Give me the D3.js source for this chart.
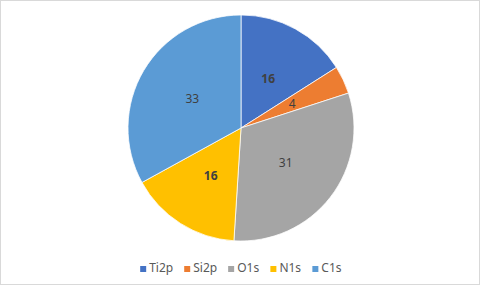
<!DOCTYPE html>
<html>
<head>
<meta charset="utf-8">
<script src="https://cdn.jsdelivr.net/npm/d3@7"></script>
<style>
  body { margin: 0; background: #fff; }
  text { font-family: "Noto Sans", "Open Sans", sans-serif; }
</style>
</head>
<body>
<svg id="chart" width="481" height="286"></svg>
<script>
var categories = ["Ti2p", "Si2p", "O1s", "N1s", "C1s"];
var values = [16, 4, 31, 16, 33];
var colors = ["#4472C4", "#ED7D31", "#A5A5A5", "#FFC000", "#5B9BD5"];
var boldLabels = [true, false, false, true, false];

var data = categories.map(function(c, i) { return { name: c, value: values[i], i: i }; });

var svg = d3.select("#chart");
var cx = 241, cy = 128, radius = 113;

// chart border
svg.append("rect")
    .attr("x", 0.5).attr("y", 0.5)
    .attr("width", 479).attr("height", 284)
    .attr("fill", "#fff")
    .attr("stroke", "#d9d9d9");

var color = d3.scaleOrdinal().domain(categories).range(colors);

var pie = d3.pie().value(function(d) { return d.value; }).sort(null);
var arc = d3.arc().innerRadius(0).outerRadius(radius);
var labelArc = d3.arc().innerRadius(radius * 0.5).outerRadius(radius * 0.5);

var g = svg.append("g").attr("transform", "translate(" + cx + "," + cy + ")");
var slices = pie(data);

g.selectAll("path.slice")
  .data(slices)
  .enter().append("path")
    .attr("class", "slice")
    .attr("d", arc)
    .attr("fill", function(d) { return color(d.data.name); })
    .attr("stroke", "#fff")
    .attr("stroke-width", 0.75);

g.selectAll("text.label")
  .data(slices)
  .enter().append("text")
    .attr("class", "label")
    .attr("transform", function(d) { return "translate(" + labelArc.centroid(d) + ")"; })
    .attr("text-anchor", "middle")
    .attr("dy", "0.35em")
    .attr("font-size", 12)
    .attr("font-weight", function(d) { return boldLabels[d.data.i] ? "bold" : "normal"; })
    .attr("fill", "#404040")
    .text(function(d) { return d.data.value; });

// legend, centered under the pie
var legend = svg.append("g").attr("class", "legend");
var items = legend.selectAll("g")
  .data(data)
  .enter().append("g");

items.append("rect")
    .attr("width", 6).attr("height", 6)
    .attr("y", -6)
    .attr("fill", function(d) { return color(d.name); });

items.append("text")
    .attr("x", 9)
    .attr("font-size", 12)
    .attr("fill", "#595959")
    .text(function(d) { return d.name; });

var xPos = 0;
items.each(function() {
  var w = this.getBBox().width;
  d3.select(this).attr("transform", "translate(" + xPos + ",0)");
  xPos += w + 11;
});
var total = xPos - 11;
legend.attr("transform", "translate(" + (cx - total / 2) + ",272)");
</script>
</body>
</html>
